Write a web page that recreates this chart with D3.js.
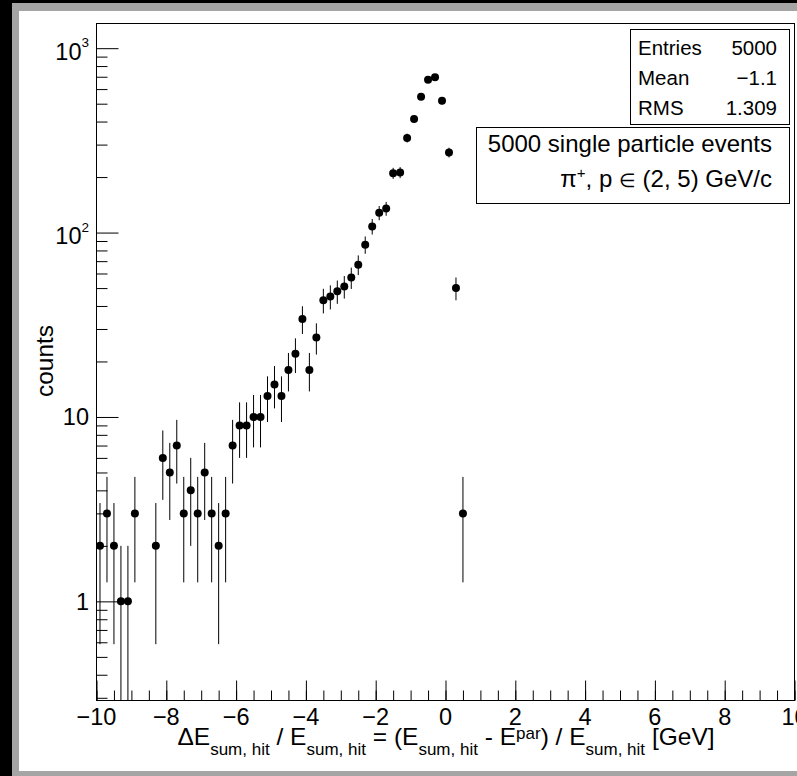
<!DOCTYPE html>
<html>
<head>
<meta charset="utf-8">
<script src="https://cdn.jsdelivr.net/npm/d3@7"></script>
<style>
body { margin: 0; background: #000; }
svg { display: block; }
text { font-family: "Liberation Sans", Arial, Helvetica, sans-serif; fill: #000; }
</style>
</head>
<body>
<svg width="797" height="776"></svg>
<script>
// bin centres (bin width 0.2) of the non empty bins and their counts
var binCenters = [-9.9, -9.7, -9.5, -9.3, -9.1, -8.9, -8.3, -8.1, -7.9, -7.7,
	-7.5, -7.3, -7.1, -6.9, -6.7, -6.5, -6.3, -6.1, -5.9, -5.7,
	-5.5, -5.3, -5.1, -4.9, -4.7, -4.5, -4.3, -4.1, -3.9, -3.7,
	-3.5, -3.3, -3.1, -2.9, -2.7, -2.5, -2.3, -2.1, -1.9, -1.7,
	-1.5, -1.3, -1.1, -0.9, -0.7, -0.5, -0.3, -0.1, 0.1, 0.3, 0.5];
var counts = [2, 3, 2, 1, 1, 3, 2, 6, 5, 7,
	3, 4, 3, 5, 3, 2, 3, 7, 9, 9,
	10, 10, 13, 15, 13, 18, 22, 34, 18, 27,
	43, 45, 48, 51, 57, 67, 86, 108, 128, 135,
	210, 212, 326, 413, 546, 675, 695, 519, 272, 50, 3];

var xTickLabels = [-10, -8, -6, -4, -2, 0, 2, 4, 6, 8, 10];
var yTickValues = [1, 10, 100, 1000];
var yTickExp = [0, 1, 2, 3];

var statsNames = ["Entries", "Mean", "RMS"];
var statsValues = ["5000", "\u22121.1", "1.309"];

var svg = d3.select("svg");

// canvas border
svg.append("rect").attr("x", 0).attr("y", 0).attr("width", 797).attr("height", 776).attr("fill", "#000");
svg.append("rect").attr("x", 12).attr("y", 3).attr("width", 790).attr("height", 780).attr("fill", "#a5a5a5");
svg.append("rect").attr("x", 19).attr("y", 11).attr("width", 780).attr("height", 760).attr("fill", "#fff");

var fLeft = 96.5, fRight = 794.5, fTop = 23.5, fBottom = 700.5;

var x = d3.scaleLinear().domain([-10, 10]).range([fLeft, fRight]);
var y = d3.scaleLog().domain([0.29, 1361]).range([fBottom, fTop]);

var g = svg.append("g");

// x ticks: minor every 0.5, major every 2
var xMinor = d3.range(-10, 10.001, 0.5);
g.append("g")
	.attr("transform", "translate(0," + fBottom + ")")
	.call(d3.axisBottom(x).tickValues(xMinor).tickSize(-10).tickSizeOuter(0).tickFormat(""))
	.call(function(a) { a.select(".domain").remove(); });

g.append("g")
	.attr("transform", "translate(0," + fBottom + ")")
	.call(d3.axisBottom(x).tickValues(xTickLabels).tickSize(-20).tickSizeOuter(0).tickFormat(""))
	.call(function(a) { a.select(".domain").remove(); });

g.selectAll(".xlab")
	.data(xTickLabels)
	.enter().append("text")
	.attr("class", "xlab")
	.attr("x", function(d) { return x(d); })
	.attr("y", 725)
	.attr("text-anchor", "middle")
	.attr("font-size", "23.5px")
	.text(function(d) { return d < 0 ? "\u2212" + (-d) : d; });

// y ticks: log minor ticks
var yMinor = [];
[0.1, 1, 10, 100].forEach(function(dec) {
	for (var k = 2; k <= 9; k++) {
		var v = dec * k;
		if (v >= 0.29 && v <= 1361) yMinor.push(v);
	}
});

g.append("g")
	.attr("transform", "translate(" + fLeft + ",0)")
	.call(d3.axisLeft(y).tickValues(yMinor).tickSize(-11).tickSizeOuter(0).tickFormat(""))
	.call(function(a) { a.select(".domain").remove(); });

g.append("g")
	.attr("transform", "translate(" + fLeft + ",0)")
	.call(d3.axisLeft(y).tickValues(yTickValues).tickSize(-22).tickSizeOuter(0).tickFormat(""))
	.call(function(a) { a.select(".domain").remove(); });

g.selectAll(".tick line").attr("stroke", "#000");

yTickValues.forEach(function(v, i) {
	var e = yTickExp[i];
	var t = g.append("text")
		.attr("x", 89)
		.attr("text-anchor", "end")
		.attr("font-size", "23.5px");
	if (e < 2) {
		t.attr("y", y(v) + 8.5).text(v);
	} else {
		t.attr("y", y(v) + 11.5).text("10");
		t.append("tspan")
			.attr("dy", -12.5)
			.attr("font-size", "13.5px")
			.text(e);
	}
});

// frame
g.append("rect")
	.attr("x", fLeft).attr("y", fTop)
	.attr("width", fRight - fLeft).attr("height", fBottom - fTop)
	.attr("fill", "none").attr("stroke", "#000").attr("stroke-width", 1);

// error bars and markers
var pts = g.append("g");
pts.selectAll("line")
	.data(counts)
	.enter().append("line")
	.attr("x1", function(d, i) { return x(binCenters[i]); })
	.attr("x2", function(d, i) { return x(binCenters[i]); })
	.attr("y1", function(d) { return y(d + Math.sqrt(d)); })
	.attr("y2", function(d) {
		var lo = d - Math.sqrt(d);
		return lo > 0.29 ? y(lo) : fBottom;
	})
	.attr("stroke", "#000")
	.attr("stroke-width", 1);

pts.selectAll("circle")
	.data(counts)
	.enter().append("circle")
	.attr("cx", function(d, i) { return x(binCenters[i]); })
	.attr("cy", function(d) { return y(d); })
	.attr("r", 4)
	.attr("fill", "#000");

// axis titles
svg.append("text")
	.attr("transform", "translate(53,361) rotate(-90)")
	.attr("text-anchor", "middle")
	.attr("font-size", "24.5px")
	.text("counts");

var xt = svg.append("text")
	.attr("x", 446)
	.attr("y", 745)
	.attr("text-anchor", "middle")
	.attr("font-size", "24.5px");
var parts = [
	["\u0394E", 0, 24.5], ["sum, hit", 10, 17], [" / E", -10, 24.5], ["sum, hit", 10, 17],
	[" = (E", -10, 24.5], ["sum, hit", 10, 17], [" - E", -10, 24.5], ["par", -6, 17],
	[") / E", 6, 24.5], ["sum, hit", 10, 17], [" [GeV]", -10, 24.5]
];
parts.forEach(function(p) {
	xt.append("tspan").attr("dy", p[1]).attr("font-size", p[2] + "px").text(p[0]);
});

// stats box
svg.append("rect")
	.attr("x", 630.5).attr("y", 29.5).attr("width", 159).attr("height", 95)
	.attr("fill", "#fff").attr("stroke", "#000");
statsNames.forEach(function(n, i) {
	svg.append("text").attr("x", 638).attr("y", 55 + i * 30)
		.attr("font-size", "20.5px").text(n);
	svg.append("text").attr("x", 777).attr("y", 55 + i * 30)
		.attr("text-anchor", "end").attr("font-size", "20.5px").text(statsValues[i]);
});

// info box
svg.append("rect")
	.attr("x", 476.5).attr("y", 127.5).attr("width", 313).attr("height", 76)
	.attr("fill", "#fff").attr("stroke", "#000");
svg.append("text").attr("x", 772).attr("y", 152)
	.attr("text-anchor", "end").attr("font-size", "24px")
	.text("5000 single particle events");
var info2 = svg.append("text").attr("x", 772).attr("y", 187)
	.attr("text-anchor", "end").attr("font-size", "24px");
info2.append("tspan").text("\u03c0");
info2.append("tspan").attr("dy", -9).attr("font-size", "15px").text("+");
info2.append("tspan").attr("dy", 9).text(", p ");
info2.append("tspan").attr("font-size", "19px").text("\u2208");
info2.append("tspan").text(" (2, 5) GeV/c");
</script>
</body>
</html>
